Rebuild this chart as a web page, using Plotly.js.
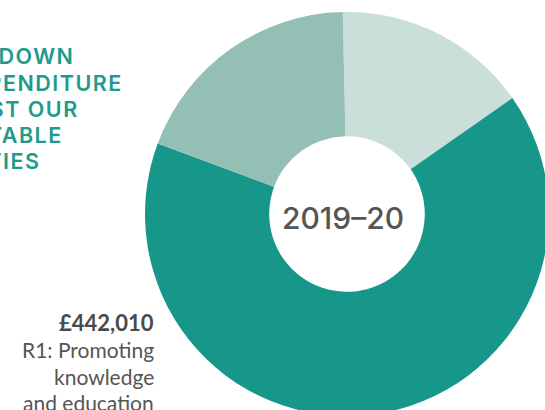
<!DOCTYPE html>
<html>
<head>
<meta charset="utf-8">
<script src="https://cdn.plot.ly/plotly-3.0.1.min.js"></script>
<style>
html, body { margin: 0; padding: 0; overflow: hidden; background: #ffffff; width: 545px; height: 410px; }
#chart { width: 560px; height: 430px; }
/* tracking for the uppercase heading lines (applies to measured clones too) */
text[style*="Inter, sans-serif"] { letter-spacing: 1.5px; }
</style>
</head>
<body>
<div id="chart"></div>
<script>
// Data
const categories = ['R2', 'R1: Promoting knowledge and education', 'R3'];
const values = [105400, 442010, 128300];
const sliceColors = ['#cbdfda', '#17968a', '#93bfb5'];
const centerLabel = '2019–20';
const titleLines = ['BREAKDOWN', 'OF EXPENDITURE', 'AGAINST OUR', 'CHARITABLE', 'ACTIVITIES'];
const calloutAmount = '£442,010';
const calloutLines = ['R1: Promoting', 'knowledge', 'and education'];

const W = 560, H = 430;
const px = x => x / W;
const py = y => 1 - y / H;

// donut geometry (pixels)
const cx = 347, cy = 214, r = 202;

const trace = {
  type: 'pie',
  labels: categories,
  values: values,
  sort: false,
  direction: 'clockwise',
  rotation: -1.2,
  hole: 0.385,
  marker: { colors: sliceColors, line: { width: 0 } },
  textinfo: 'none',
  hoverinfo: 'none',
  showlegend: false,
  domain: { x: [px(cx - r), px(cx + r)], y: [py(cy + r), py(cy - r)] }
};

const titleRightEdges = [73, 122, 78, 62, 40];
const titleBaselines = [65, 92, 118, 144, 170];

const annotations = [];
titleLines.forEach((t, i) => {
  annotations.push({
    text: t, xref: 'paper', yref: 'paper',
    x: px(titleRightEdges[i] + 2), y: py(titleBaselines[i] + 5),
    xanchor: 'right', yanchor: 'bottom', showarrow: false, borderpad: 0,
    font: { family: 'Inter, sans-serif', size: 21.5, weight: 600, color: '#1f9a8c' }
  });
});

annotations.push({
  text: centerLabel, xref: 'paper', yref: 'paper',
  x: px(342.5), y: py(217.5), xanchor: 'center', yanchor: 'middle', showarrow: false,
  font: { family: 'Inter', size: 30, weight: 500, color: '#555555' }
});

const calloutBaselines = [358, 385, 411];
annotations.push({
  text: '<b>' + calloutAmount + '</b>',
  xref: 'paper', yref: 'paper',
  x: px(156), y: py(332 + 6), xanchor: 'right', yanchor: 'bottom', showarrow: false,
  font: { family: 'Lato', size: 22, color: '#4a4a4a' }
});
calloutLines.forEach((t, i) => {
  annotations.push({
    text: t, xref: 'paper', yref: 'paper',
    x: px(156), y: py(calloutBaselines[i] + 6), xanchor: 'right', yanchor: 'bottom', showarrow: false,
    font: { family: 'Lato', size: 21, color: '#555555' }
  });
});

const layout = {
  width: W, height: H,
  margin: { l: 0, r: 0, t: 0, b: 0 },
  paper_bgcolor: '#ffffff',
  plot_bgcolor: '#ffffff',
  annotations: annotations
};

Plotly.newPlot('chart', [trace], layout, { displayModeBar: false, staticPlot: true });
</script>
</body>
</html>
